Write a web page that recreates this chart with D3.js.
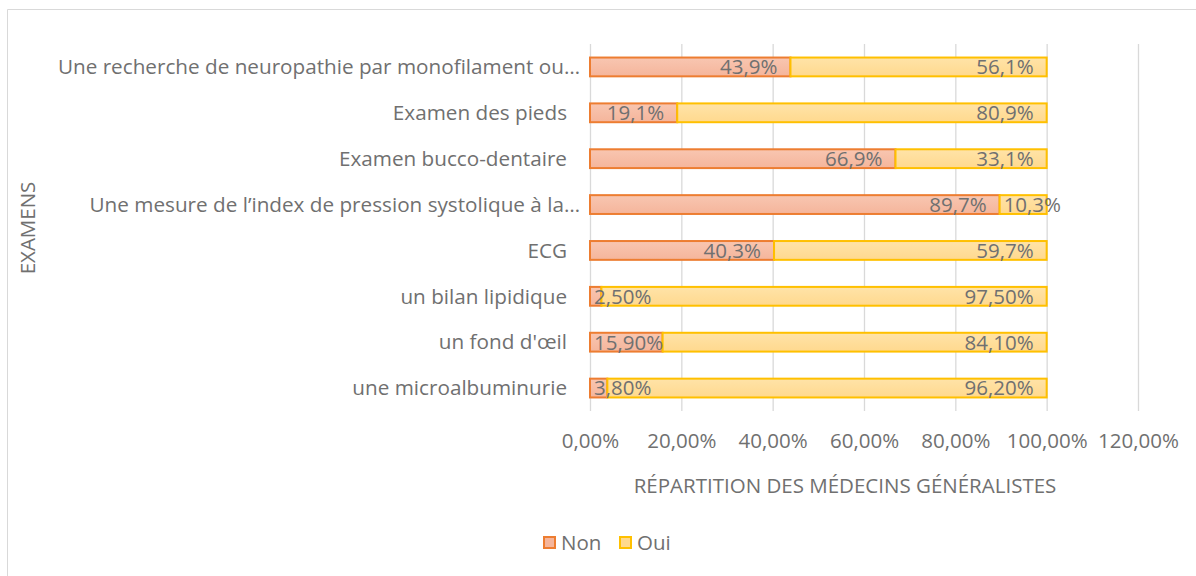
<!DOCTYPE html>
<html>
<head>
<meta charset="utf-8">
<script src="https://cdn.jsdelivr.net/npm/d3@7"></script>
<style>
  html, body { margin: 0; padding: 0; background: #fff; }
  svg { display: block; }
  svg text { font-family: "Open Sans", "Noto Sans", sans-serif; fill: #707070; }
</style>
</head>
<body>
<script>
// catégories (de haut en bas)
const categories = [
    "Une recherche de neuropathie par monofilament ou…",
    "Examen des pieds",
    "Examen bucco-dentaire",
    "Une mesure de l’index de pression systolique à la…",
    "ECG",
    "un bilan lipidique",
    "un fond d'œil",
    "une microalbuminurie"
];
const nonValues = [43.9, 19.1, 66.9, 89.7, 40.3, 2.5, 15.9, 3.8];
const ouiValues = [56.1, 80.9, 33.1, 10.3, 59.7, 97.5, 84.1, 96.2];
const nonLabels = ["43,9%", "19,1%", "66,9%", "89,7%", "40,3%", "2,50%", "15,90%", "3,80%"];
const ouiLabels = ["56,1%", "80,9%", "33,1%", "10,3%", "59,7%", "97,50%", "84,10%", "96,20%"];
const xTicks = [0, 20, 40, 60, 80, 100, 120];
const seriesNames = ["Non", "Oui"];

const width = 1196, height = 576;
const margin = {top: 44, right: 58, bottom: 165, left: 590};
const innerWidth = width - margin.left - margin.right;
const innerHeight = height - margin.top - margin.bottom;

const colors = {
    Non: {fill: "#f5b59b", top: "#f8c6b1", stroke: "#ed7d31"},
    Oui: {fill: "#ffd98e", top: "#ffe3a8", stroke: "#ffc000"}
};

const svg = d3.select('body').append('svg')
    .attr('width', width)
    .attr('height', height);

// dégradés des barres
const defs = svg.append('defs');
seriesNames.forEach(s => {
    const gr = defs.append('linearGradient')
        .attr('id', 'grad' + s)
        .attr('x1', 0).attr('y1', 0).attr('x2', 0).attr('y2', 1);
    gr.append('stop').attr('offset', '0%').attr('stop-color', colors[s].top);
    gr.append('stop').attr('offset', '100%').attr('stop-color', colors[s].fill);
});

// cadre (seuls les bords haut et gauche sont visibles)
svg.append('path')
    .attr('d', `M7.5,${height} V9.5 H${width}`)
    .attr('fill', 'none')
    .attr('stroke', '#d9d9d9');

const g = svg.append('g')
    .attr('transform', `translate(${margin.left},${margin.top})`);

const xScale = d3.scaleLinear()
    .domain([0, 120])
    .range([0, innerWidth]);

const yScale = d3.scaleBand()
    .domain(categories)
    .range([0, innerHeight])
    .paddingInner(0.59)
    .paddingOuter(0.295);

// grille
const xAxis = d3.axisBottom(xScale)
    .tickValues(xTicks)
    .tickSize(-innerHeight)
    .tickPadding(22)
    .tickFormat(d => d3.format('.2f')(d).replace('.', ',') + '%');

const xAxisG = g.append('g')
    .attr('transform', `translate(0,${innerHeight})`)
    .call(xAxis);
xAxisG.select('.domain').remove();
xAxisG.selectAll('line').attr('stroke', '#d9d9d9').attr('stroke-width', 1.3);
xAxisG.selectAll('text')
    .attr('font-size', 20.5)
    .attr('fill', '#707070')
    .style('font-family', '"Open Sans", sans-serif');

// libellés des catégories
g.selectAll('.cat-label')
    .data(categories)
    .enter().append('text')
    .attr('class', 'cat-label')
    .attr('x', d => d.endsWith('…') ? -10 : -23)
    .attr('y', d => yScale(d) + yScale.bandwidth() / 2)
    .attr('dy', '0.35em')
    .attr('text-anchor', 'end')
    .attr('font-size', 20.7)
    .text(d => d);

// barres empilées
const rows = categories.map((c, i) => ({
    cat: c,
    parts: [
        {s: "Non", x0: 0, x1: nonValues[i], label: nonLabels[i]},
        {s: "Oui", x0: nonValues[i], x1: nonValues[i] + ouiValues[i], label: ouiLabels[i]}
    ]
}));

rows.forEach(r => {
    r.parts.forEach(p => {
        g.append('rect')
            .attr('x', xScale(p.x0))
            .attr('y', yScale(r.cat))
            .attr('width', xScale(p.x1) - xScale(p.x0))
            .attr('height', yScale.bandwidth())
            .attr('fill', `url(#grad${p.s})`)
            .attr('stroke', colors[p.s].stroke)
            .attr('stroke-width', 2);
    });
});

// étiquettes de données
rows.forEach(r => {
    r.parts.forEach(p => {
        const t = g.append('text')
            .attr('y', yScale(r.cat) + yScale.bandwidth() / 2)
            .attr('dy', '0.36em')
            .attr('font-size', 20.5)
            .attr('text-anchor', 'end')
            .text(p.label);
        const w = t.node().getComputedTextLength();
        const start = xScale(p.x0), end = xScale(p.x1);
        let x = end - 13;
        if (x - w < start + 4) x = start + 4 + w;
        t.attr('x', x);
    });
});

// titres des axes
svg.append('text')
    .attr('transform', `translate(35,${228}) rotate(-90)`)
    .attr('text-anchor', 'middle')
    .attr('font-size', 20.5)
    .text('EXAMENS');

svg.append('text')
    .attr('x', 845)
    .attr('y', 493)
    .attr('text-anchor', 'middle')
    .attr('font-size', 20.5)
    .text('RÉPARTITION DES MÉDECINS GÉNÉRALISTES');

// légende
const legend = svg.append('g').attr('transform', 'translate(543,536)');
let lx = 0;
seriesNames.forEach(s => {
    const item = legend.append('g').attr('transform', `translate(${lx},0)`);
    item.append('rect')
        .attr('x', 1).attr('y', 1)
        .attr('width', 11).attr('height', 11)
        .attr('fill', colors[s].fill)
        .attr('stroke', colors[s].stroke)
        .attr('stroke-width', 2);
    item.append('text')
        .attr('x', 18).attr('y', 7)
        .attr('dy', '0.36em')
        .attr('font-size', 20.5)
        .text(s);
    lx += 76;
});
</script>
</body>
</html>
